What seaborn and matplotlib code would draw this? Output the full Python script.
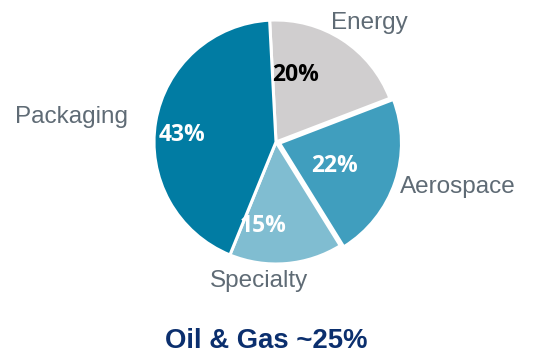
import matplotlib
matplotlib.use("Agg")
import matplotlib.pyplot as plt
import seaborn as sns
import numpy as np

categories = ["Energy", "Aerospace", "Specialty", "Packaging"]
shares = [20, 22, 15, 43]
pct_labels = ["20%", "22%", "15%", "43%"]
title_text = "Oil & Gas ~25%"

colors = sns.color_palette(["#D0CECF", "#409EBE", "#80BDD1", "#017CA3"])
pct_colors = ["#000000", "#FFFFFF", "#FFFFFF", "#FFFFFF"]

sns.set_theme(style="white")
plt.rcParams["font.family"] = ["Liberation Sans", "DejaVu Sans"]

fig = plt.figure(figsize=(5.54, 3.56), dpi=100)
ax = fig.add_axes([0, 0, 1, 1])

wedges, texts = ax.pie(
    shares,
    colors=colors,
    startangle=93,
    counterclock=False,
    explode=[0, 0.03, 0, 0],
    wedgeprops=dict(edgecolor="white", linewidth=2.2),
)

# label placement (distance in radii, angle in degrees)
label_pos = [(1.24, 52), (1.54, -14), (1.15, -97), (1.69, 173)]
pct_pos = [(0.57, 74), (0.52, -22), (0.70, -99), (0.77, 176)]

for name, (d, a) in zip(categories, label_pos):
    t = np.deg2rad(a)
    ax.text(d * np.cos(t), d * np.sin(t), name, ha="center", va="center",
            fontsize=17.5, color="#5F6B75")

for lab, c, (d, a) in zip(pct_labels, pct_colors, pct_pos):
    t = np.deg2rad(a)
    ax.text(d * np.cos(t), d * np.sin(t), lab, ha="center", va="center",
            fontsize=16.5, fontweight="bold", color=c, family=["Open Sans", "DejaVu Sans"])

ax.set_aspect("auto")
ax.set_xlim(-276 / 122, (554 - 276) / 122)
ax.set_ylim(-(356 - 142) / 122, 142 / 122)
ax.axis("off")

fig.text(266 / 554, 1 - 341 / 356, title_text, ha="center", va="center",
         fontsize=19.8, fontweight="bold", color="#0B2F6E")

fig.savefig("out.png", dpi=100)
